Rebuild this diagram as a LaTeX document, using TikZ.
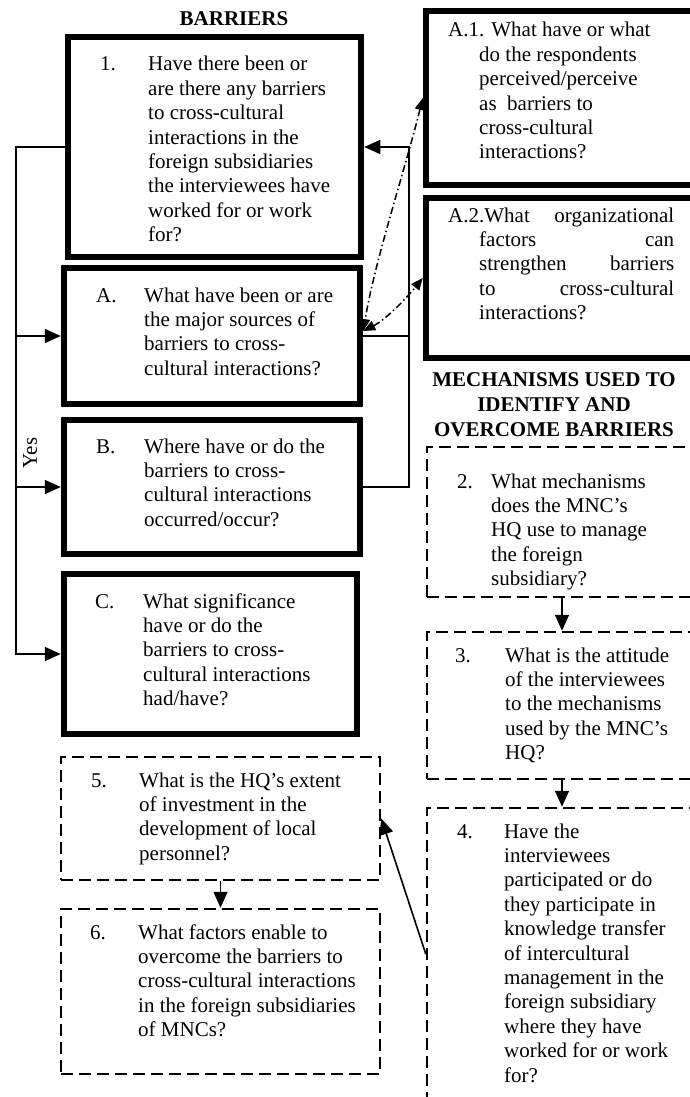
\documentclass[tikz,border=0pt]{standalone}
\usepackage{fontspec}
\setmainfont{Liberation Serif}
\usetikzlibrary{arrows.meta}
\newcommand{\flowarrowstyle}{-{Triangle[length=16pt,width=14pt]}}
\newcommand{\linkarrowstyle}{{Triangle[length=12pt,width=10pt]}-{Triangle[length=12pt,width=10pt]}}
\newcommand{\qlines}[1]{\parbox[t]{240pt}{\raggedright #1}}

\begin{document}
\begin{tikzpicture}[
    x=1pt, y=-1pt,
    font=\fontsize{21}{24.4}\selectfont,
    flow/.style={\flowarrowstyle, line width=1.6pt},
    flowline/.style={line width=1.6pt},
    link/.style={\linkarrowstyle, line width=1.5pt, dash pattern=on 7pt off 3pt on 1.5pt off 3pt},
    qsolid/.style={draw, line width=6.5pt, inner sep=0pt},
    qdash/.style={draw, line width=2.5pt, dash pattern=on 12pt off 6pt, inner sep=0pt},
    qnum/.style={anchor=base west, inner sep=0pt},
    qtxt/.style={anchor=base west, inner sep=0pt},
    hdr/.style={font=\fontsize{21}{24.6}\selectfont\bfseries, inner sep=0pt, align=center, anchor=base}
]
  \useasboundingbox (0,0) rectangle (689,1097);

  % headings (base = last line)
  \node[hdr] (barriers) at (234,26) {BARRIERS};
  \node[hdr] (mechanisms) at (554,436) {MECHANISMS USED TO\\IDENTIFY AND\\OVERCOME BARRIERS};

  % barrier questions
  \node[qsolid, minimum width=293pt, minimum height=220pt] (box1) at (214.5,147) {};
  \node[qsolid, minimum width=296pt, minimum height=136pt] (boxA) at (212,336) {};
  \node[qsolid, minimum width=296pt, minimum height=134pt] (boxB) at (212,487) {};
  \node[qsolid, minimum width=293pt, minimum height=160pt] (boxC) at (210.5,654) {};
  \node[qsolid, minimum width=274pt, minimum height=174pt] (boxA1) at (563,98) {};
  \node[qsolid, minimum width=274pt, minimum height=160pt] (boxA2) at (563,278) {};

  % mechanism questions
  \node[qdash, minimum width=270pt, minimum height=150pt] (box2) at (562,522) {};
  \node[qdash, minimum width=270pt, minimum height=147pt] (box3) at (562,705.5) {};
  \node[qdash, minimum width=270pt, minimum height=292pt] (box4) at (562,954) {};
  \node[qdash, minimum width=319pt, minimum height=123pt] (box5) at (220.5,818.5) {};
  \node[qdash, minimum width=319pt, minimum height=165pt] (box6) at (220.5,991.5) {};

  % texts
  \node[qnum] (num1) at (100,71) {1.};
  \node[qtxt] (txt1) at (148,71) {\qlines{Have there been or\\are there any barriers\\to cross-cultural\\interactions in the\\foreign subsidiaries\\the interviewees have\\worked for or work\\for?}};
  \node[qnum] (numA) at (96,302) {A.};
  \node[qtxt] (txtA) at (144,302) {\qlines{What have been or are\\the major sources of\\barriers to cross-\\cultural interactions?}};
  \node[qnum] (numB) at (96,453) {B.};
  \node[qtxt] (txtB) at (144,453) {\qlines{Where have or do the\\barriers to cross-\\cultural interactions\\occurred/occur?}};
  \node[qnum] (numC) at (95,608) {C.};
  \node[qtxt] (txtC) at (143,608) {\qlines{What significance\\have or do the\\barriers to cross-\\cultural interactions\\had/have?}};
  \node[qtxt] (txtA1) at (448,37) {\qlines{A.1. What have or what\\\hspace*{31pt}do the respondents\\\hspace*{31pt}perceived/perceive\\\hspace*{31pt}as\ \ barriers to\\\hspace*{31pt}cross-cultural\\\hspace*{31pt}interactions?}};
  \node[qtxt] (txtA2) at (448,222) {\qlines{\makebox[226pt][s]{A.2.What organizational}\\\hspace*{31pt}\makebox[195pt][s]{factors can}\\\hspace*{31pt}\makebox[195pt][s]{strengthen barriers}\\\hspace*{31pt}\makebox[195pt][s]{to cross-cultural}\\\hspace*{31pt}interactions?}};
  \node[qnum] (num2) at (457,488) {2.};
  \node[qtxt] (txt2) at (491,488) {\qlines{What mechanisms\\does the MNC’s\\HQ use to manage\\the foreign\\subsidiary?}};
  \node[qnum] (num3) at (455,662) {3.};
  \node[qtxt] (txt3) at (505,662) {\qlines{What is the attitude\\of the interviewees\\to the mechanisms\\used by the MNC’s\\HQ?}};
  \node[qnum] (num4) at (457,838) {4.};
  \node[qtxt] (txt4) at (504,838) {\qlines{Have the\\interviewees\\participated or do\\they participate in\\knowledge transfer\\of intercultural\\management in the\\foreign subsidiary\\where they have\\worked for or work\\for?}};
  \node[qnum] (num5) at (91,787) {5.};
  \node[qtxt] (txt5) at (139,787) {\qlines{What is the HQ’s extent\\of investment in the\\development of local\\personnel?}};
  \node[qnum] (num6) at (90,939) {6.};
  \node[qtxt] (txt6) at (138,939) {\qlines{What factors enable to\\overcome the barriers to\\cross-cultural interactions\\in the foreign subsidiaries\\of MNCs?}};

  % left bus: yes branch
  \coordinate (lbus) at (16,0);
  \coordinate (rbus) at (409,0);
  \draw[flow] (box1.west) -- (box1.west -| lbus) |- (boxC.west);
  \foreach \b in {boxA,boxB} {
    \draw[flow] (\b.west -| lbus) -- (\b.west);
  }
  \node[rotate=90] (yes) at (30,453) {Yes};

  % right bus back to question 1
  \draw[flowline] (boxA.east) -- (boxA.east -| rbus);
  \draw[flow] (boxB.east) -- (boxB.east -| rbus) |- (box1.east);

  % links to sub-questions of A
  \coordinate (linkA) at ([yshift=5pt]boxA.east);
  \draw[link] (boxA1.west) .. controls (405,170) and (375,260) .. (linkA);
  \draw[link] (linkA) .. controls (385,320) and (405,300) .. (boxA2.west);

  % mechanism chain
  \draw[flow] (box2.south) -- (box3.north);
  \draw[flow] (box3.south) -- (box4.north);
  \draw[flow] (box5.south) -- (box6.north);
  \draw[flow] (box4.west) -- (box5.east);
\end{tikzpicture}
\end{document}
